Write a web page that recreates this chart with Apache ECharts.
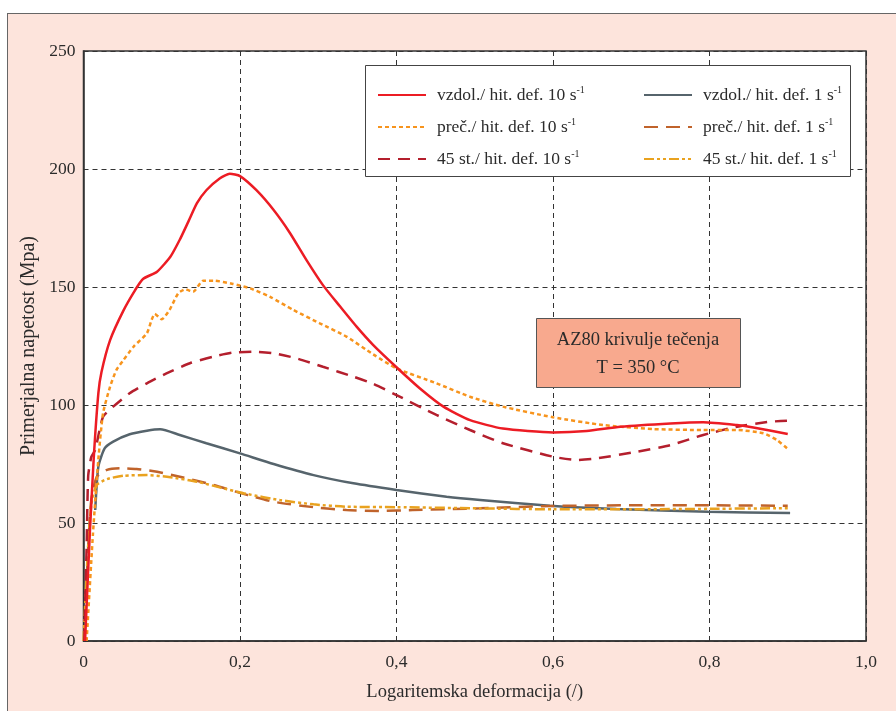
<!DOCTYPE html>
<html lang="sl">
<head>
    <meta charset="UTF-8">
    <title>AZ80 krivulje tečenja</title>
    <script src="https://cdn.jsdelivr.net/npm/echarts@6/dist/echarts.min.js"></script>
    <style type="text/css">
        body{ margin:0; background:#fff; }
        .frame{
            position:absolute; left:7px; top:13px; width:900px; height:710px;
            background:#fde4dc; border:1px solid #666;
        }
        .chartData{ position:absolute; left:0; top:0; width:896px; height:711px; }
    </style>
</head>
<body>
<div class="frame"></div>
<div class="chartData" id="chartData"></div>
<script type="text/javascript">
    // x = logaritemska deformacija, y = napetost (MPa)
    var xTicks = [0, 0.2, 0.4, 0.6, 0.8, 1.0];
    var yTicks = [0, 50, 100, 150, 200, 250];

    var vzdol10 = [[0.002,0],[0.008,45],[0.013,77],[0.019,105],[0.023,114],[0.034,127.5],[0.051,140],[0.066,148.7],
        [0.076,153.4],[0.094,156.5],[0.111,162.8],[0.123,170],[0.134,177.7],[0.145,185.5],[0.157,191],[0.174,196],
        [0.187,198],[0.2,197],[0.221,191],[0.243,182.6],[0.264,172.8],[0.285,161.4],[0.306,150.8],[0.328,141.7],
        [0.349,133.2],[0.37,125.5],[0.4,116],[0.43,107],[0.46,99.3],[0.494,93.6],[0.536,90],[0.6,88.4],[0.643,89],
        [0.686,90.8],[0.75,92.2],[0.792,92.7],[0.835,91.5],[0.856,90.5],[0.9,87.7]];
    var prec10 = [[0.004,0],[0.012,45],[0.019,77],[0.025,96.5],[0.034,107.8],[0.042,114.8],[0.051,119],[0.064,124.7],
        [0.081,130.4],[0.087,136],[0.091,138.6],[0.1,136.3],[0.11,140.3],[0.121,147.3],[0.13,149],[0.14,148],
        [0.153,152.7],[0.166,152.7],[0.191,151.3],[0.213,149.4],[0.238,145.9],[0.268,140.3],[0.302,134.6],[0.336,129],
        [0.37,121.5],[0.4,115.5],[0.451,109.2],[0.494,103.5],[0.536,99.3],[0.6,94.8],[0.664,91.5],[0.728,89.8],
        [0.792,89.4],[0.835,89.4],[0.869,88],[0.886,85.2],[0.899,81.7]];
    var st45_10 = [[0.001,0],[0.004,40],[0.006,70],[0.01,78],[0.015,81],[0.025,95],[0.038,99.3],[0.059,105],
        [0.081,109.2],[0.106,113.4],[0.136,117.7],[0.166,120.5],[0.191,122.2],[0.217,122.6],[0.243,121.9],[0.272,119.8],
        [0.306,116.2],[0.345,112],[0.37,109],[0.4,104.2],[0.451,95.8],[0.494,89.4],[0.536,83.8],[0.6,78.1],[0.63,76.7],
        [0.656,77.4],[0.707,80.2],[0.75,83],[0.792,87.3],[0.835,90.8],[0.877,92.9],[0.899,93.3]];
    var vzdol1 = [[0.015,55.5],[0.019,73.9],[0.027,81.6],[0.038,84.5],[0.059,87.6],[0.081,89.1],[0.098,89.7],
        [0.123,87.3],[0.157,83.8],[0.2,79.5],[0.243,75],[0.294,70.3],[0.345,66.8],[0.4,64],[0.464,61.1],[0.507,59.7],
        [0.596,57.3],[0.681,55.9],[0.798,54.8],[0.903,54.2]];
    var prec1 = [[0.001,0],[0.006,40],[0.01,60],[0.017,69.6],[0.03,72.5],[0.047,73.2],[0.068,72.9],[0.094,71.7],
        [0.123,69.6],[0.166,66.1],[0.209,61.9],[0.243,59],[0.294,56.7],[0.336,55.5],[0.379,55.1],[0.421,55.5],
        [0.507,56.2],[0.6,57.2],[0.7,57.5],[0.8,57.5],[0.9,57.3]];
    var st45_1 = [[0,0],[0.005,35],[0.01,58],[0.017,66.1],[0.03,68.6],[0.051,70],[0.081,70.3],[0.111,69.4],
        [0.145,67.5],[0.174,65.1],[0.209,62.3],[0.251,59.7],[0.294,57.9],[0.336,56.9],[0.4,56.7],[0.507,56.2],
        [0.6,55.8],[0.7,55.8],[0.8,56],[0.9,56.3]];

    var seriesNames = ['vzdol./ hit. def. 10 s', 'preč./ hit. def. 10 s', '45 st./ hit. def. 10 s',
        'vzdol./ hit. def. 1 s', 'preč./ hit. def. 1 s', '45 st./ hit. def. 1 s'];

    var font = 'Liberation Serif';
    var txtColor = '#2b2b2b';

    function lineSeries(name, data, color, type, width) {
        return {
            type: 'line',
            name: name,
            data: data,
            smooth: 0.2,
            symbol: 'none',
            z: 3,
            itemStyle: {color: color},
            lineStyle: {color: color, width: width, type: type}
        };
    }

    function legendFmt(name) {
        return '{t|' + name + '}{sup|-1}';
    }

    var legendText = {
        fontFamily: font,
        color: txtColor,
        rich: {
            t: {fontFamily: font, fontSize: 17.5, color: txtColor, padding: [0, 0, 0, 6]},
            sup: {fontFamily: font, fontSize: 10, color: txtColor, padding: [0, 0, 10, 0]}
        }
    };

    var myChart = echarts.init(document.getElementById('chartData'));
    var option = {
        backgroundColor: 'transparent',
        animation: false,
        grid: {
            left: 83.5, right: 30, top: 51, bottom: 70,
            show: true, backgroundColor: '#fff', borderColor: '#333', borderWidth: 1.5
        },
        xAxis: {
            type: 'value',
            min: xTicks[0], max: xTicks[xTicks.length - 1], interval: 0.2,
            name: 'Logaritemska deformacija (/)',
            nameLocation: 'middle', nameGap: 42,
            nameTextStyle: {fontFamily: font, fontSize: 18.5, color: txtColor},
            axisLine: {lineStyle: {color: '#333', width: 1.5}},
            axisTick: {show: false},
            axisLabel: {
                fontFamily: font, fontSize: 17.5, color: txtColor, margin: 12,
                formatter: function (v) { return v === 0 ? '0' : v.toFixed(1).replace('.', ','); }
            },
            splitLine: {show: true, lineStyle: {color: '#333', type: [5, 4], width: 1}}
        },
        yAxis: {
            type: 'value',
            min: yTicks[0], max: yTicks[yTicks.length - 1], interval: 50,
            name: 'Primerjalna napetost (Mpa)',
            nameLocation: 'middle', nameGap: 45,
            nameTextStyle: {fontFamily: font, fontSize: 20, color: txtColor},
            axisLine: {show: true, lineStyle: {color: '#333', width: 1.5}},
            axisTick: {show: false},
            axisLabel: {fontFamily: font, fontSize: 17.5, color: txtColor, margin: 8},
            splitLine: {show: true, lineStyle: {color: '#333', type: [5, 4], width: 1}}
        },
        legend: [{
            data: seriesNames.slice(0, 3),
            orient: 'vertical', left: 372, top: 80,
            itemWidth: 48, itemHeight: 14, itemGap: 13,
            z: 60,
            itemStyle: {opacity: 0},
            formatter: legendFmt,
            textStyle: legendText
        }, {
            data: seriesNames.slice(3, 6),
            orient: 'vertical', left: 638, top: 80,
            itemWidth: 48, itemHeight: 14, itemGap: 13,
            z: 60,
            itemStyle: {opacity: 0},
            formatter: legendFmt,
            textStyle: legendText
        }],
        graphic: [{
            type: 'rect', z: 50,
            shape: {x: 365.5, y: 65.5, width: 485, height: 111},
            style: {fill: '#fff', stroke: '#444', lineWidth: 1}
        }, {
            type: 'rect', z: 50,
            shape: {x: 536.5, y: 318.5, width: 204, height: 69},
            style: {fill: '#f8a98e', stroke: '#555', lineWidth: 1}
        }, {
            type: 'text', z: 51, x: 638, y: 340,
            style: {text: 'AZ80 krivulje tečenja', fontFamily: font, fontSize: 18.5, fill: txtColor,
                align: 'center', verticalAlign: 'middle'}
        }, {
            type: 'text', z: 51, x: 638, y: 368,
            style: {text: 'T = 350 °C', fontFamily: font, fontSize: 18.5, fill: txtColor,
                align: 'center', verticalAlign: 'middle'}
        }],
        series: [
            lineSeries(seriesNames[3], vzdol1, '#56646c', 'solid', 2.5),
            lineSeries(seriesNames[4], prec1, '#c0632b', [14, 8], 2.5),
            lineSeries(seriesNames[5], st45_1, '#e9a21f', [10, 3, 3, 3, 3, 3], 2.5),
            lineSeries(seriesNames[2], st45_10, '#b41f2d', [12, 8], 2.5),
            lineSeries(seriesNames[1], prec10, '#f7941d', [4, 3], 2.5),
            lineSeries(seriesNames[0], vzdol10, '#ec1c24', 'solid', 2.5)
        ]
    };
    myChart.setOption(option);
</script>
</body>
</html>
